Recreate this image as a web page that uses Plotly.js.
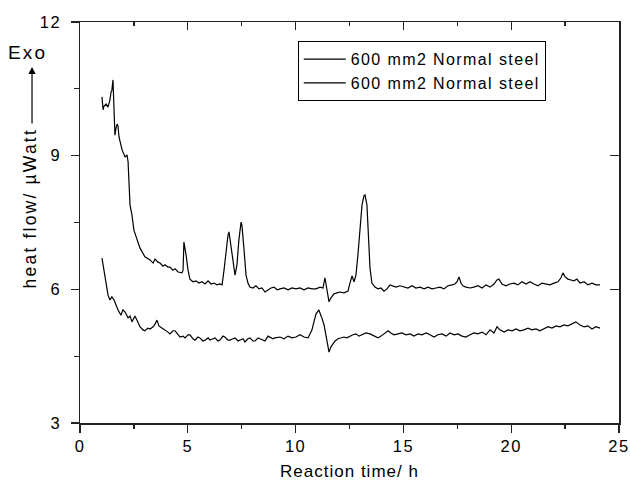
<!DOCTYPE html>
<html>
<head>
<meta charset="utf-8">
<script src="https://cdn.plot.ly/plotly-3.0.1.min.js"></script>
<style>
html,body{margin:0;padding:0;background:#fff;}
#chart{width:630px;height:486px;}
.legendtext{letter-spacing:1.4px;}
.xtitle{letter-spacing:1.0px;}
.xtick text,.ytick text{letter-spacing:1.5px;}
.annotation-text{letter-spacing:2.2px;}
</style>
</head>
<body>
<div id="chart"></div>
<script>
// Upper curve (reaction time in h, heat flow in µWatt)
const timeA = [1.02,1.07,1.11,1.21,1.30,1.39,1.44,1.48,1.53,1.58,
  1.62,1.67,1.72,1.76,1.81,1.95,2.09,2.18,2.23,2.32,
  2.41,2.50,2.64,2.78,3.01,3.25,3.39,3.48,3.62,3.71,
  3.85,3.94,4.08,4.17,4.31,4.41,4.55,4.73,4.78,4.82,
  4.92,5.01,5.10,5.24,5.38,5.52,5.66,5.80,5.94,6.08,
  6.22,6.35,6.49,6.59,6.68,6.77,6.86,6.91,7.00,7.10,
  7.19,7.28,7.37,7.47,7.51,7.61,7.70,7.79,7.88,8.02,
  8.16,8.30,8.44,8.58,8.72,8.86,9.00,9.14,9.28,9.46,
  9.65,9.83,10.02,10.20,10.39,10.58,10.76,10.95,11.13,11.27,
  11.36,11.46,11.55,11.64,11.78,11.92,12.06,12.24,12.43,12.52,
  12.62,12.71,12.80,12.89,12.99,13.08,13.17,13.22,13.31,13.36,
  13.40,13.45,13.54,13.68,13.82,13.96,14.10,14.24,14.38,14.52,
  14.66,14.84,15.03,15.21,15.40,15.58,15.77,15.96,16.14,16.33,
  16.51,16.70,16.88,17.07,17.25,17.39,17.49,17.58,17.67,17.76,
  17.90,18.09,18.27,18.46,18.65,18.83,19.02,19.20,19.34,19.43,
  19.57,19.76,19.94,20.13,20.31,20.50,20.69,20.87,21.06,21.24,
  21.43,21.61,21.80,21.98,22.17,22.31,22.40,22.50,22.63,22.77,
  22.91,23.05,23.19,23.38,23.56,23.75,23.93,24.12];
const flowA = [10.32,10.03,10.11,10.16,10.09,10.25,10.43,10.47,10.70,10.03,
  9.46,9.62,9.71,9.67,9.42,9.13,8.97,9.02,8.86,7.89,
  7.67,7.33,7.11,6.93,6.73,6.66,6.59,6.68,6.61,6.59,
  6.52,6.55,6.50,6.50,6.43,6.46,6.39,6.37,6.43,7.06,
  6.77,6.43,6.23,6.17,6.19,6.14,6.17,6.12,6.19,6.12,
  6.14,6.10,6.12,6.10,6.43,6.88,7.20,7.29,7.00,6.61,
  6.32,6.55,7.11,7.51,7.44,6.88,6.32,6.14,6.05,6.03,
  6.08,6.01,6.03,5.94,5.99,6.03,6.05,5.99,6.01,6.03,
  5.99,6.03,6.01,6.03,5.99,6.03,6.01,6.01,6.05,6.03,
  6.26,5.99,5.72,5.81,5.90,5.92,5.94,5.92,5.96,6.14,
  6.30,6.17,6.32,6.77,7.33,7.89,8.10,8.12,7.89,7.44,
  7.00,6.48,6.14,6.05,6.01,6.03,5.96,6.01,6.10,6.08,
  6.05,6.08,6.05,6.03,6.08,6.03,6.05,6.01,6.05,6.01,
  6.03,6.05,6.01,6.08,6.10,6.12,6.17,6.28,6.14,6.08,
  6.05,6.03,6.05,6.08,6.03,6.10,6.05,6.12,6.21,6.23,
  6.12,6.08,6.12,6.14,6.10,6.17,6.12,6.17,6.12,6.08,
  6.14,6.12,6.10,6.14,6.17,6.26,6.37,6.28,6.23,6.21,
  6.19,6.23,6.14,6.17,6.10,6.14,6.10,6.10];

// Lower curve
const timeB = [1.02,1.11,1.21,1.30,1.39,1.48,1.58,1.67,1.76,1.90,
  1.99,2.09,2.23,2.32,2.41,2.55,2.69,2.78,2.92,3.01,
  3.15,3.25,3.39,3.48,3.57,3.66,3.80,3.94,4.08,4.17,
  4.31,4.41,4.55,4.64,4.78,4.87,5.01,5.10,5.24,5.33,
  5.47,5.56,5.70,5.80,5.94,6.03,6.17,6.26,6.40,6.49,
  6.63,6.72,6.86,6.95,7.10,7.19,7.33,7.42,7.56,7.65,
  7.79,7.88,8.02,8.12,8.26,8.35,8.49,8.58,8.72,8.81,
  8.95,9.04,9.18,9.28,9.46,9.65,9.83,10.02,10.20,10.39,
  10.58,10.67,10.76,10.85,10.95,11.04,11.08,11.18,11.22,11.32,
  11.41,11.50,11.55,11.64,11.73,11.83,11.97,12.10,12.24,12.38,
  12.52,12.66,12.80,12.94,13.08,13.26,13.45,13.64,13.82,13.96,
  14.15,14.29,14.42,14.56,14.75,14.93,15.12,15.31,15.49,15.68,
  15.86,16.05,16.23,16.42,16.60,16.79,16.98,17.16,17.35,17.53,
  17.72,17.90,18.09,18.27,18.46,18.65,18.83,19.02,19.20,19.34,
  19.48,19.67,19.85,20.04,20.22,20.41,20.59,20.78,20.96,21.15,
  21.33,21.52,21.71,21.89,22.08,22.26,22.45,22.63,22.82,23.00,
  23.19,23.38,23.56,23.75,23.93,24.12];
const flowB = [6.70,6.43,6.14,5.87,5.76,5.83,5.76,5.65,5.54,5.42,
  5.54,5.49,5.36,5.40,5.27,5.40,5.27,5.16,5.09,5.07,
  5.13,5.11,5.16,5.22,5.31,5.18,5.13,5.09,5.04,5.00,
  5.07,5.07,4.98,4.93,4.95,4.91,4.98,4.98,4.89,4.86,
  4.93,4.91,4.84,4.86,4.91,4.86,4.89,4.91,4.84,4.86,
  4.95,4.93,4.86,4.86,4.89,4.91,4.84,4.86,4.89,4.82,
  4.89,4.91,4.84,4.84,4.91,4.89,4.86,4.84,4.95,4.93,
  4.89,4.91,4.93,4.93,4.89,4.95,4.91,4.93,4.98,4.93,
  4.91,5.02,5.09,5.27,5.45,5.51,5.54,5.40,5.36,5.20,
  4.98,4.75,4.59,4.71,4.77,4.84,4.89,4.91,4.93,4.91,
  4.95,4.98,5.00,4.95,4.98,5.02,5.00,4.95,4.91,4.95,
  5.02,5.07,5.02,4.98,5.00,5.02,4.98,5.00,4.95,5.00,
  4.98,5.02,4.98,4.93,4.98,5.00,4.95,5.02,4.98,5.00,
  4.95,4.93,4.98,5.02,5.00,5.04,4.98,5.09,5.02,5.16,
  5.09,5.04,5.09,5.07,5.11,5.07,5.09,5.13,5.09,5.11,
  5.07,5.11,5.16,5.13,5.18,5.16,5.20,5.18,5.22,5.27,
  5.20,5.16,5.18,5.11,5.16,5.13];

const seriesNames = ["600 mm2 Normal steel", "600 mm2 Normal steel"];
const xTitle = "Reaction time/ h";
const yTitle = "heat flow/ µWatt";
const exoLabel = "Exo";

const FONT = "Liberation Sans, Arial, sans-serif";
const AX = "#222";

const traces = [
  {x: timeA, y: flowA, name: seriesNames[0], type: "scatter", mode: "lines",
   line: {color: "#000", width: 1.2}},
  {x: timeB, y: flowB, name: seriesNames[1], type: "scatter", mode: "lines",
   line: {color: "#000", width: 1.2}},
  // invisible trace to carry the mirrored top/right axes
  {x: [0], y: [3], xaxis: "x2", yaxis: "y2", mode: "markers",
   marker: {opacity: 0}, showlegend: false, hoverinfo: "skip"}
];

const layout = {
  width: 630, height: 486,
  margin: {l: 80, r: 11, t: 22, b: 63},
  paper_bgcolor: "#fff", plot_bgcolor: "#fff",
  font: {family: FONT, color: "#000", size: 16},
  showlegend: true,
  legend: {x: 0.404, y: 0.952, xanchor: "left", yanchor: "top",
    bgcolor: "#fff", bordercolor: "#000", borderwidth: 1,
    font: {family: FONT, size: 16, color: "#000"},
    tracegroupgap: 0, itemwidth: 42},
  xaxis: {range: [0, 25], dtick: 5, tick0: 0, ticks: "outside", ticklen: 8,
    tickwidth: 1.3, tickcolor: AX, showline: true, linecolor: AX, linewidth: 1.5,
    showgrid: false, zeroline: false, tickfont: {size: 16.5},
    minor: {dtick: 2.5, ticks: "outside", ticklen: 4, tickwidth: 1.3, tickcolor: AX, showgrid: false},
    title: {text: xTitle, font: {size: 17}, standoff: 11}},
  yaxis: {range: [3, 12], dtick: 3, tick0: 3, ticks: "outside", ticklen: 8,
    tickwidth: 1.3, tickcolor: AX, showline: true, linecolor: AX, linewidth: 1.5,
    showgrid: false, zeroline: false, tickfont: {size: 16.5}, ticklabelstandoff: 6,
    minor: {dtick: 1.5, ticks: "outside", ticklen: 5, tickwidth: 1.3, tickcolor: AX, showgrid: false}},
  xaxis2: {overlaying: "x", side: "top", range: [0, 25], dtick: 5, tick0: 0,
    ticks: "inside", ticklen: 8, tickwidth: 1.3, tickcolor: AX,
    showline: true, linecolor: AX, linewidth: 1.5, showticklabels: false,
    showgrid: false, zeroline: false,
    minor: {dtick: 2.5, ticks: "inside", ticklen: 4, tickwidth: 1.3, tickcolor: AX, showgrid: false}},
  yaxis2: {overlaying: "y", side: "right", range: [3, 12], dtick: 3, tick0: 3,
    ticks: "inside", ticklen: 9, tickwidth: 1.3, tickcolor: AX,
    showline: true, linecolor: AX, linewidth: 1.5, showticklabels: false,
    showgrid: false, zeroline: false},
  annotations: [
    {xref: "paper", yref: "paper", x: -0.091, y: 0.535, text: yTitle,
     textangle: -90, showarrow: false, font: {size: 17.5, family: FONT},
     xanchor: "center", yanchor: "middle"},
    {xref: "paper", yref: "paper", x: -0.098, y: 0.925, text: exoLabel,
     showarrow: false, font: {size: 19, family: FONT},
     xanchor: "center", yanchor: "middle"},
    {xref: "paper", yref: "paper", x: -0.089, y: 0.888, text: "",
     showarrow: true, ax: 0, ay: 58, arrowhead: 2, arrowsize: 1.2,
     arrowwidth: 1.2, arrowcolor: "#000"}
  ]
};

Plotly.newPlot("chart", traces, layout, {staticPlot: true, displayModeBar: false});
</script>
</body>
</html>
